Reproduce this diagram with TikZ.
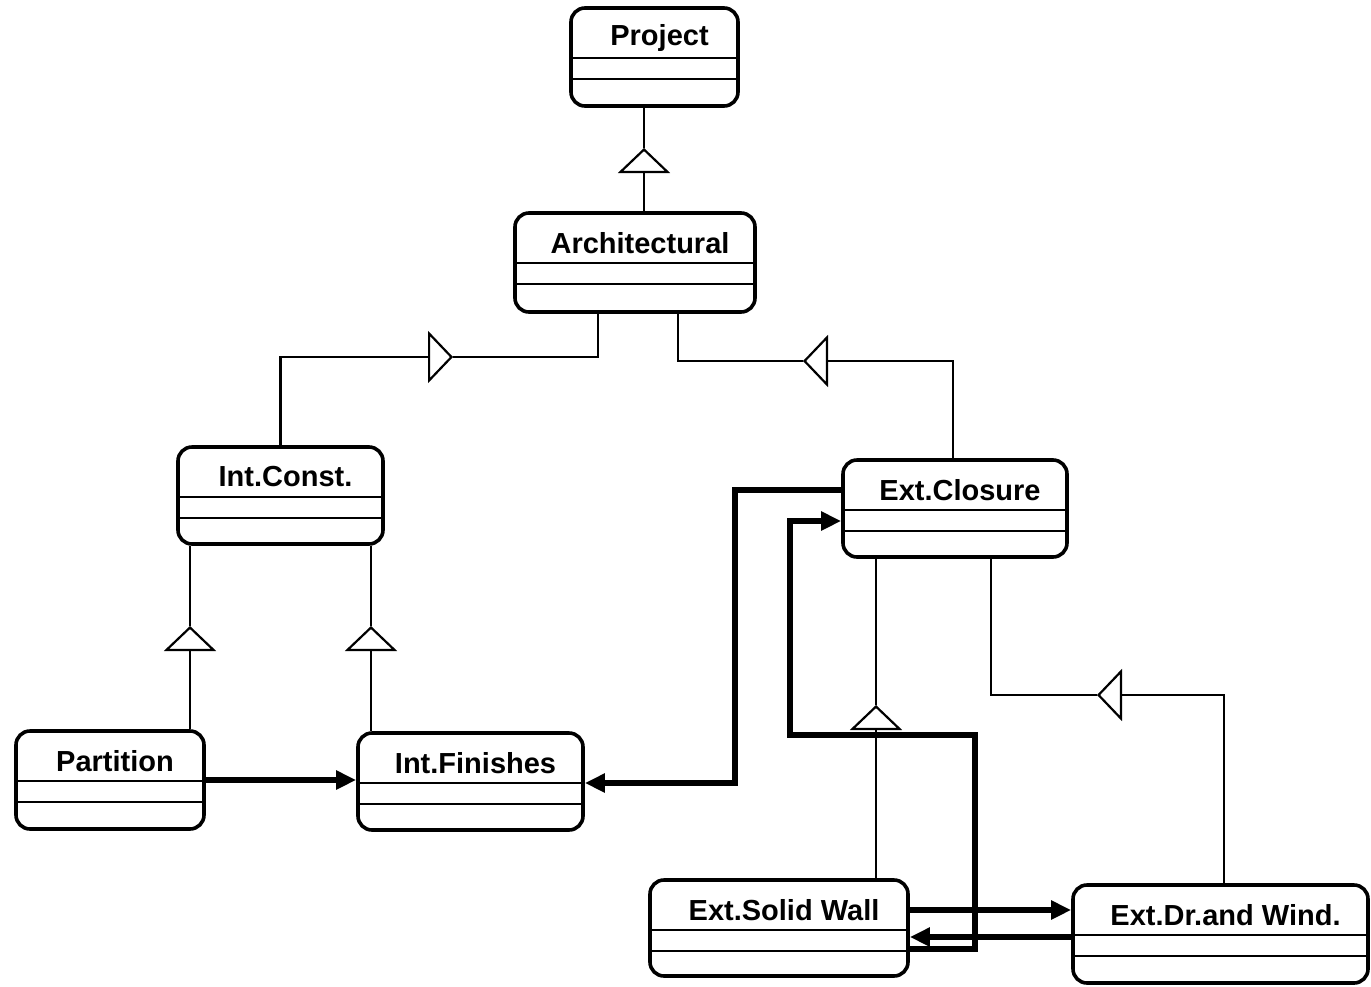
\documentclass[tikz,border=0pt]{standalone}
\usepackage{fontspec}
\setmainfont{Liberation Sans}
\usetikzlibrary{arrows.meta,calc}

\tikzset{
  umlclass/.style={draw, line width=3.6pt, rounded corners=14pt, inner sep=0pt,
    path picture={
      \draw[line width=2.4pt]
        ([yshift=-50pt]path picture bounding box.north west) --
        ([yshift=-50pt]path picture bounding box.north east);
      \draw[line width=2.4pt]
        ([yshift=-71pt]path picture bounding box.north west) --
        ([yshift=-71pt]path picture bounding box.north east);
    }},
  classname/.style={font=\fontsize{29}{32}\selectfont\bfseries, inner sep=0pt, anchor=center},
  inherit/.style={line width=2.2pt, -{Triangle[open, length=25pt, width=52pt]}},
  thin/.style={line width=2.2pt},
  assoc/.style={line width=5.5pt, -{Triangle[length=20pt, width=18pt]}},
}

\newcommand\umlclassbox[6]{% name, centre x, centre y, width, height, title
  \node[umlclass, minimum width=#4pt, minimum height=#5pt] (#1) at (#2,#3) {};
  \node[classname] (#1-title) at ($(#1.north)+(5,31.5)$) {#6};
}

\begin{document}
\begin{tikzpicture}[x=1pt, y=-1pt]
  \useasboundingbox (0,0) rectangle (1371,986);

  % classes
  \umlclassbox{project}{654.5}{57}{167}{98}{Project}
  \umlclassbox{arch}{635}{262.5}{240}{99}{Architectural}
  \umlclassbox{intconst}{280.5}{495.5}{205}{97}{Int.Const.}
  \umlclassbox{extclosure}{955}{508.5}{224}{97}{Ext.Closure}
  \umlclassbox{partition}{110}{780}{188}{98}{Partition}
  \umlclassbox{intfin}{470.5}{781.5}{225}{97}{Int.Finishes}
  \umlclassbox{extwall}{779}{928}{258}{96}{Ext.Solid Wall}
  \umlclassbox{extdr}{1220.5}{934}{295}{98}{Ext.Dr.and Wind.}

  % apexes of the generalisation triangles
  \coordinate (g-arch) at (644,148);
  \coordinate (g-int) at (453,357);
  \coordinate (g-ext) at (803,361);
  \coordinate (g-part) at (190,626);
  \coordinate (g-fin) at (371,626);
  \coordinate (g-wall) at (876,705);
  \coordinate (g-dr) at (1097,695);

  % generalisations
  \draw[inherit] ([xshift=9pt]arch.north) -- (g-arch);
  \draw[thin] (g-arch) -- ([xshift=-10.5pt]project.south);

  \draw[inherit] (intconst.north) |- (g-int);
  \draw[thin] (g-int) -| ([xshift=-37pt]arch.south);

  \draw[inherit] ([xshift=-2pt]extclosure.north) |- (g-ext);
  \draw[thin] (g-ext) -| ([xshift=43pt]arch.south);

  \draw[inherit] ([xshift=80pt]partition.north) -- (g-part);
  \draw[thin] (g-part) -- (g-part |- intconst.south);

  \draw[inherit] ([xshift=-99.5pt]intfin.north) -- (g-fin);
  \draw[thin] (g-fin) -- (g-fin |- intconst.south);

  \draw[inherit] ([xshift=97pt]extwall.north) -- (g-wall);
  \draw[thin] (g-wall) -- (g-wall |- extclosure.south);

  \draw[inherit] ([xshift=3.5pt]extdr.north) |- (g-dr);
  \draw[thin] (g-dr) -| ([xshift=36pt]extclosure.south);

  % associations
  \draw[assoc] (partition.east) -- (partition.east -| intfin.west);

  \draw[assoc] ([yshift=18.5pt]extclosure.west) -| (735,783) -- ([yshift=-1.5pt]intfin.east);

  \draw[assoc] ([yshift=-21pt]extwall.east) -| (975,735) -| (790,521)
    -- ([yshift=-12.5pt]extclosure.west);

  \draw[assoc] ([yshift=18pt]extwall.east) -- ([yshift=18pt]extwall.east -| extdr.west);
  \draw[assoc] ([yshift=-3pt]extdr.west) -- ([yshift=-3pt]extdr.west -| extwall.east);
\end{tikzpicture}
\end{document}
